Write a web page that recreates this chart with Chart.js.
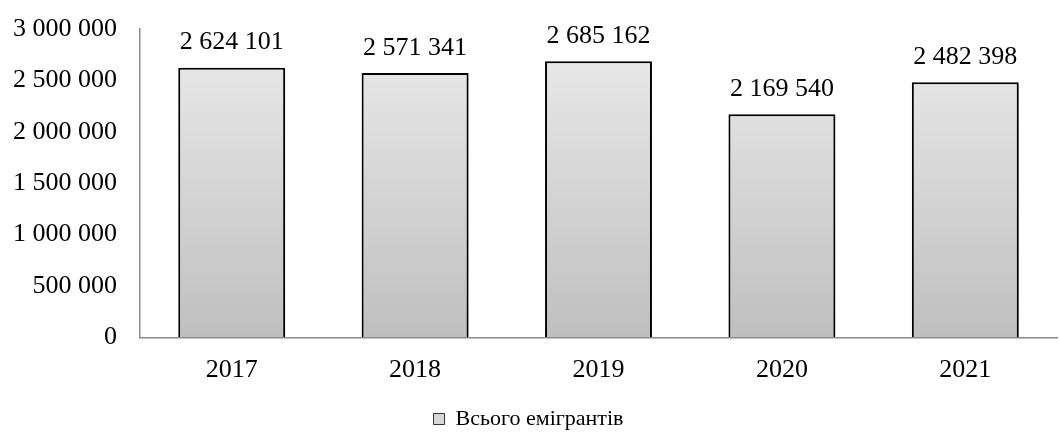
<!DOCTYPE html>
<html>
<head>
<meta charset="utf-8">
<script src="https://cdn.jsdelivr.net/npm/chart.js@4.4.1/dist/chart.umd.min.js"></script>
<style>
    html, body { margin: 0; padding: 0; background: #fff; }
    #wrap { width: 1059px; height: 434px; }
</style>
</head>
<body>
<div id="wrap"><canvas id="bar-chart"></canvas></div>
<script>
// data
var years = ['2017', '2018', '2019', '2020', '2021'];
var emigrants = [2624101, 2571341, 2685162, 2169540, 2482398];
var seriesName = 'Всього емігрантів';

function fmt(v) {
    return String(v).replace(/\B(?=(\d{3})+(?!\d))/g, ' ');
}

function barFill(context) {
    var chart = context.chart;
    var area = chart.chartArea;
    if (!area) return '#d8d8d8';
    var g = chart.ctx.createLinearGradient(0, area.top, 0, area.bottom);
    g.addColorStop(0, '#ececec');
    g.addColorStop(1, '#bfbfbf');
    return g;
}

// soft shadow under the bars
var barShadow = {
    id: 'barShadow',
    beforeDatasetDraw: function (chart) {
        var c = chart.ctx;
        c.save();
        c.shadowColor = 'rgba(0,0,0,0.3)';
        c.shadowBlur = 3;
        c.shadowOffsetX = 2;
        c.shadowOffsetY = 2;
    },
    afterDatasetDraw: function (chart) {
        chart.ctx.restore();
    }
};

// simple value labels above the bars
var valueLabels = {
    id: 'valueLabels',
    afterDatasetsDraw: function (chart) {
        var ctx = chart.ctx;
        var meta = chart.getDatasetMeta(0);
        ctx.save();
        ctx.font = '26px "Liberation Serif"';
        ctx.fillStyle = '#000';
        ctx.textAlign = 'center';
        ctx.textBaseline = 'bottom';
        meta.data.forEach(function (bar, i) {
            ctx.fillText(fmt(emigrants[i]), bar.x, bar.y - 12);
        });
        ctx.restore();
    }
};

const ctx = document.getElementById('bar-chart').getContext('2d');
new Chart(ctx, {
    type: 'bar',
    data: {
        labels: years,
        datasets: [{
            label: seriesName,
            data: emigrants,
            backgroundColor: barFill,
            borderColor: '#000',
            borderWidth: 2,
            categoryPercentage: 1,
            barPercentage: 0.583
        }]
    },
    options: {
        responsive: true,
        maintainAspectRatio: false,
        animation: false,
        layout: { padding: { top: 29, right: 2, left: 0, bottom: -6 } },
        plugins: {
            tooltip: { enabled: false },
            legend: {
                position: 'bottom',
                labels: {
                    font: { family: 'Liberation Serif', size: 22 },
                    color: '#000',
                    boxWidth: 11,
                    boxHeight: 11,
                    padding: 5.5,
                    generateLabels: function (chart) {
                        return [{
                            text: seriesName,
                            fillStyle: '#d6d6d6',
                            strokeStyle: '#333',
                            lineWidth: 1,
                            datasetIndex: 0
                        }];
                    }
                }
            }
        },
        scales: {
            x: {
                grid: { display: false, drawTicks: false },
                border: { color: '#8c8c8c', width: 1.5 },
                ticks: {
                    color: '#000',
                    padding: 17,
                    font: { family: 'Liberation Serif', size: 26 }
                }
            },
            y: {
                min: 0,
                max: 3000000,
                grid: { display: false, drawTicks: false },
                border: { color: '#8c8c8c', width: 1.5 },
                afterFit: function (scale) {
                    scale.width = 140;
                    scale.paddingTop = 0;
                    scale.paddingBottom = 0;
                },
                ticks: {
                    stepSize: 500000,
                    color: '#000',
                    padding: 23,
                    font: { family: 'Liberation Serif', size: 26 },
                    callback: function (v) { return fmt(v); }
                }
            }
        }
    },
    plugins: [barShadow, valueLabels]
});
</script>
</body>
</html>
